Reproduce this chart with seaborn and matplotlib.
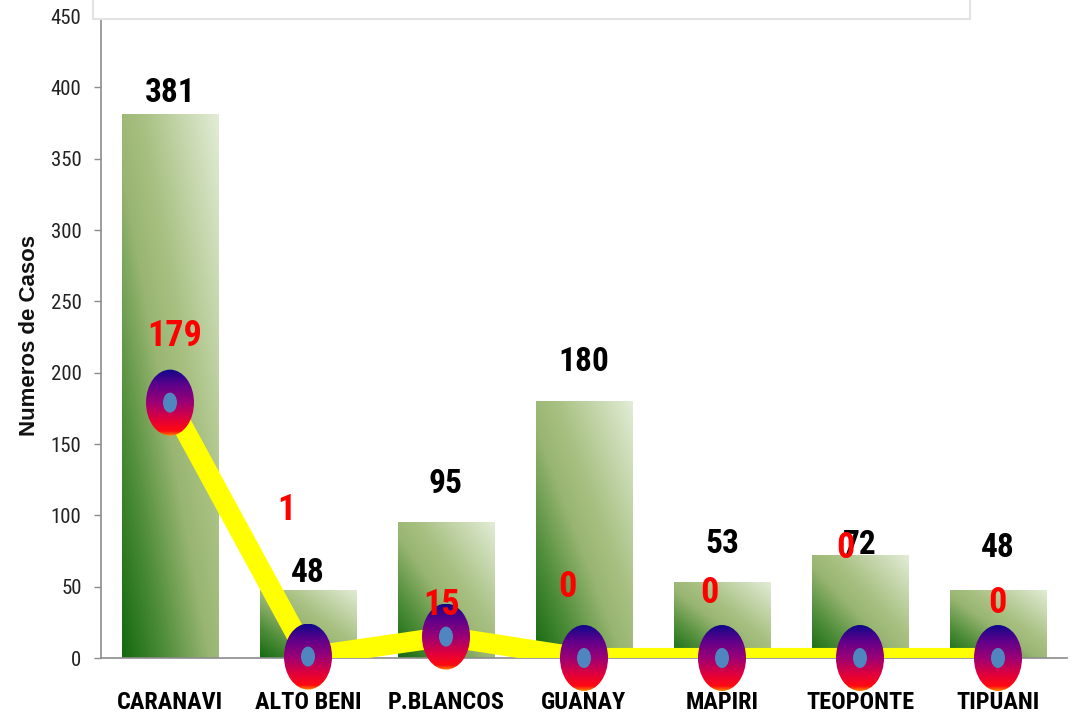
import numpy as np
import pandas as pd
import matplotlib
matplotlib.use("Agg")
import matplotlib.pyplot as plt
from matplotlib import font_manager as fm
from matplotlib.colors import LinearSegmentedColormap
from matplotlib.patches import Ellipse, Rectangle
import seaborn as sns

# Data
municipios = ["CARANAVI", "ALTO BENI", "P.BLANCOS", "GUANAY", "MAPIRI", "TEOPONTE", "TIPUANI"]
casos = [381, 48, 95, 180, 53, 72, 48]
defunciones = [179, 1, 15, 0, 0, 0, 0]
y_ticks = [0, 50, 100, 150, 200, 250, 300, 350, 400, 450]

# Label placement (pixels)
casos_gap_px = [5, 1, 22, 23, 22, -6, 26]
def_offset_px = [(5, 67), (-22, 147), (-4, 32), (-17, 71), (-13, 65), (-15, 110), (-1, 55)]


def pick_font(candidates, fallback="DejaVu Sans"):
    available = {f.name for f in fm.fontManager.ttflist}
    for name in candidates:
        if name in available:
            return name
    return fallback


sns.set_theme(style="white")
COND = pick_font(["Roboto Condensed", "Archivo Narrow", "Sofia Sans Condensed",
                  "Liberation Sans Narrow"])
SANS = pick_font(["Liberation Sans", "Arimo"])
plt.rcParams["font.family"] = [COND, "DejaVu Sans"]

DPI = 100
W, H = 1076, 718
fig = plt.figure(figsize=(W / DPI, H / DPI), dpi=DPI)
x_left, x_right, y_zero, y_top = 101, 1067, 658, 16
ax = fig.add_axes([x_left / W, 1 - y_zero / H, (x_right - x_left) / W, (y_zero - y_top) / H])

df = pd.DataFrame({"municipio": municipios, "casos": casos})
sns.barplot(data=df, x="municipio", y="casos", ax=ax, width=0.7, color="#6a9a4a",
            edgecolor="none", saturation=1)

n = len(municipios)
ax.set_xlim(-0.5, n - 0.5)
ax.set_ylim(0, 450)

# Diagonal green gradient inside every bar
bar_cmap = LinearSegmentedColormap.from_list(
    "verde", [(0, "#13690f"), (0.22, "#4d8c38"), (0.45, "#98b571"),
              (0.62, "#aac285"), (1, "#e2ecd6")])
gy, gx = np.mgrid[0:1:200j, 0:1:200j]
grad = (gx + gy) / 2.0
for p in list(ax.patches):
    x0, y0 = p.get_x(), p.get_y()
    w, h = p.get_width(), p.get_height()
    im = ax.imshow(grad, cmap=bar_cmap, origin="lower", aspect="auto",
                   extent=(x0, x0 + w, y0, y0 + h), zorder=2, interpolation="bilinear")
    im.set_clip_path(p)
    p.set_facecolor("none")

# Yellow line for deaths (clipped by the plot area like the bars)
xs = np.arange(n)
sns.lineplot(x=xs, y=defunciones, ax=ax, color="#ffff00", linewidth=14.5,
             zorder=4, solid_joinstyle="miter", solid_capstyle="butt")
ax.set_xlim(-0.5, n - 0.5)
ax.set_ylim(0, 450)

# Axes styling
ax.set_yticks(y_ticks)
ax.set_yticklabels([str(t) for t in y_ticks], fontsize=15, color="#222222")
ax.set_xticks(xs)
ax.set_xticklabels(municipios, fontsize=17.5, fontweight="bold", color="black")
ax.tick_params(axis="x", length=0, pad=24)
ax.tick_params(axis="y", length=5, width=1, color="#8c8c8c", direction="out", pad=9, left=True)
ax.set_xlabel("")
ax.set_ylabel("")
for side in ["top", "right"]:
    ax.spines[side].set_visible(False)
for side in ["left", "bottom"]:
    ax.spines[side].set_color("#8c8c8c")
    ax.spines[side].set_linewidth(1.2)
ax.set_facecolor("white")

fig.text(30 / W, 1 - 336 / H, "Numeros de Casos", rotation=90, ha="center", va="center",
         fontsize=16, fontweight="bold", family=[SANS, "DejaVu Sans"], color="#111111")

# Overlay axes with the same scale, reaching the figure bottom, for markers and labels
px_per_x = (x_right - x_left) / n
px_per_y = (y_zero - y_top) / 450
ov = fig.add_axes([x_left / W, 0, (x_right - x_left) / W, (H - y_top) / H], zorder=3)
ov.set_xlim(-0.5, n - 0.5)
ov.set_ylim(-(H - y_zero) / px_per_y, 450)
ov.set_axis_off()
ov.patch.set_alpha(0)

mark_cmap = LinearSegmentedColormap.from_list(
    "marca", [(0, "#ff8a00"), (0.07, "#ff0a10"), (0.25, "#e0003c"), (0.5, "#9c0074"),
              (0.75, "#62008a"), (1, "#10088a")])
mgrad = np.linspace(0, 1, 200).reshape(-1, 1) * np.ones((1, 20))
mw, mh = 48 / px_per_x, 66 / px_per_y
cw, ch = 14 / px_per_x, 20 / px_per_y
for xi, yi in zip(xs, defunciones):
    e = Ellipse((xi, yi), mw, mh, facecolor="none", edgecolor="none", zorder=5)
    ov.add_patch(e)
    im = ov.imshow(mgrad, cmap=mark_cmap, origin="lower", aspect="auto",
                   extent=(xi - mw / 2, xi + mw / 2, yi - mh / 2, yi + mh / 2),
                   zorder=5, interpolation="bilinear")
    im.set_clip_path(e)
    ov.add_patch(Ellipse((xi, yi), cw, ch, facecolor="#4f86c0", edgecolor="none", zorder=6))
ov.set_xlim(-0.5, n - 0.5)
ov.set_ylim(-(H - y_zero) / px_per_y, 450)

# Value labels
pt = 72 / DPI
for xi, v, gap in zip(xs, casos, casos_gap_px):
    ov.annotate(str(v), (xi, v), xytext=(0, gap * pt), textcoords="offset points",
                ha="center", va="bottom", fontsize=24, fontweight="bold",
                color="black", zorder=7)
for xi, v, (dx, dy) in zip(xs, defunciones, def_offset_px):
    ov.annotate(str(v), (xi, v), xytext=(dx * pt, dy * pt), textcoords="offset points",
                ha="center", va="center", fontsize=26, fontweight="bold",
                color="#ff0000", zorder=8)

# Empty frame across the top
fig.patches.append(Rectangle((93 / W, 1 - 19 / H), (970 - 93) / W, 30 / H,
                             transform=fig.transFigure, facecolor="white",
                             edgecolor="#e3e3e3", linewidth=1.5, zorder=0))

fig.savefig("out.png", dpi=DPI)
